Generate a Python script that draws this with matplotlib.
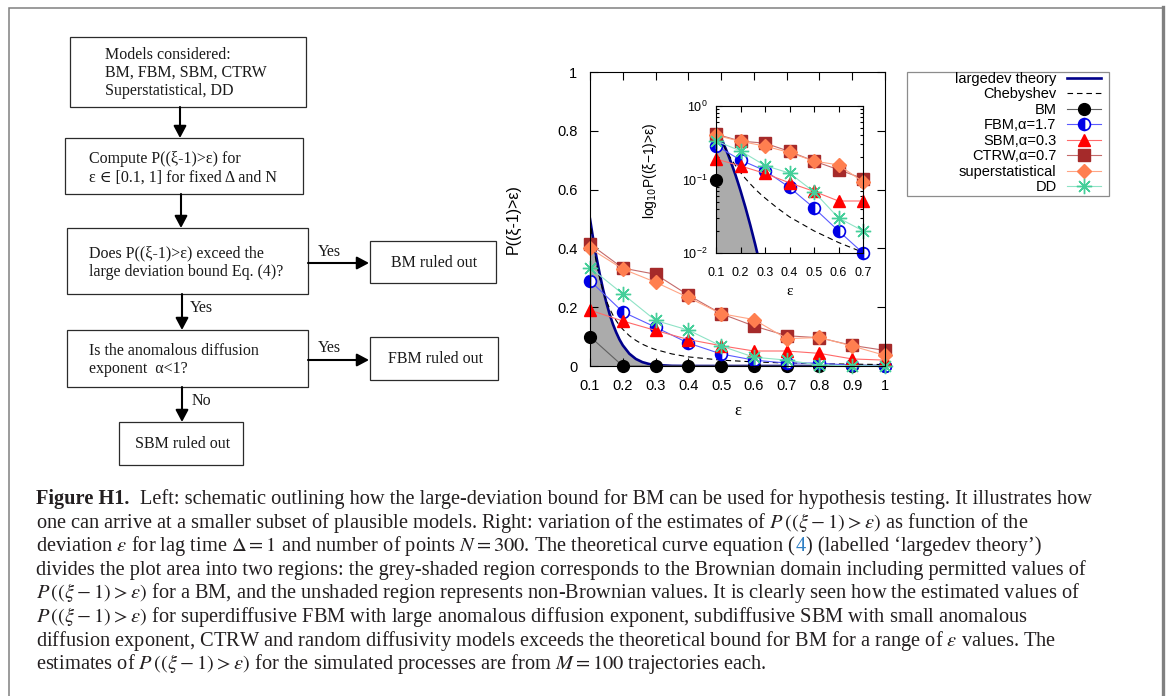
import matplotlib.pyplot as plt
from matplotlib.patches import Rectangle

W, H = 1168, 696

# ---- data ----
eps = [0.1, 0.2, 0.3, 0.4, 0.5, 0.6, 0.7, 0.8, 0.9, 1.0]
bm = [0.10, 0, 0, 0, 0, 0, 0, 0, 0, 0]
fbm = [0.29, 0.184, 0.132, 0.078, 0.041, 0.020, 0.010, 0.010, 0.002, 0.001]
sbm = [0.19, 0.153, 0.121, 0.090, 0.069, 0.051, 0.051, 0.043, 0.024, 0.020]
ctrw = [0.415, 0.333, 0.312, 0.241, 0.178, 0.136, 0.103, 0.096, 0.070, 0.053]
superstat = [0.400, 0.330, 0.285, 0.233, 0.178, 0.158, 0.093, 0.097, 0.068, 0.036]
dd = [0.335, 0.245, 0.155, 0.122, 0.068, 0.030, 0.020, 0.003, 0.001, 0.0]

# theory curves
eps_fine = [0.10, 0.11, 0.12, 0.13, 0.14, 0.15, 0.16, 0.17, 0.18, 0.19, 0.20,
            0.22, 0.24, 0.26, 0.28, 0.30, 0.35, 0.40, 0.50, 0.60, 0.70, 0.80,
            0.90, 1.00]
largedev = [0.50, 0.43, 0.368, 0.311, 0.260, 0.215, 0.176, 0.142, 0.114, 0.090,
            0.0705, 0.0419, 0.0239, 0.0131, 0.0069, 0.0035, 0.00056, 0.00007,
            0, 0, 0, 0, 0, 0]
cheb = [0.50, 0.413, 0.347, 0.296, 0.255, 0.222, 0.195, 0.173, 0.154, 0.138,
        0.125, 0.103, 0.087, 0.074, 0.064, 0.056, 0.041, 0.031, 0.020, 0.0139,
        0.0102, 0.0078, 0.0062, 0.005]

xticks = [0.1, 0.2, 0.3, 0.4, 0.5, 0.6, 0.7, 0.8, 0.9, 1.0]
xtick_labels = ["0.1", "0.2", "0.3", "0.4", "0.5", "0.6", "0.7", "0.8", "0.9", "1"]
yticks = [0, 0.2, 0.4, 0.6, 0.8, 1.0]
ytick_labels = ["0", "0.2", "0.4", "0.6", "0.8", "1"]
inset_xticks = [0.1, 0.2, 0.3, 0.4, 0.5, 0.6, 0.7]
n_in = 7  # points shown in the inset (eps <= 0.7)

names = ["BM", "FBM,α=1.7", "SBM,α=0.3", "CTRW,α=0.7", "superstatistical", "DD"]
values = [bm, fbm, sbm, ctrw, superstat, dd]
styles = [
    dict(color="#606060", marker="o", mfc="black", mec="black", ms=8.5),
    dict(color="#5a5aff", marker="o", mfc="#0000e6", mec="#0000e6",
         markerfacecoloralt="white", fillstyle="left", ms=8.5, mew=1.2),
    dict(color="#ff6a6a", marker="^", mfc="#ff0000", mec="#ff0000", ms=8.5),
    dict(color="#c46a6a", marker="s", mfc="#a52a2a", mec="#a52a2a", ms=8),
    dict(color="#ffa585", marker="D", mfc="#ff7f50", mec="#ff7f50", ms=7),
    dict(color="#8fe3c6", marker=(8, 2, 0), mfc="#45cf9a", mec="#45cf9a", ms=11, mew=1.0),
]

flow_boxes = [  # left, top, right, bottom
    (70, 37, 306, 107), (65, 138, 303, 194), (67, 228, 308, 294),
    (370, 241, 496, 283), (67, 330, 308, 387), (370, 337, 498, 380),
    (119, 422, 243, 465)]
flow_left_text = [
    (105, 73, "Models considered:\nBM, FBM, SBM, CTRW\nSuperstatistical, DD"),
    (89, 168, "Compute P((ξ-1)>ε) for\nε ∈ [0.1, 1] for fixed Δ and N"),
    (89, 263, "Does P((ξ-1)>ε) exceed the\nlarge deviation bound Eq. (4)?"),
    (89, 360, "Is the anomalous diffusion\nexponent  α<1?")]
flow_center_text = [(434, 263, "BM ruled out"), (435, 359, "FBM ruled out"),
                    (183, 444, "SBM ruled out")]
flow_arrows = [((180, 107), (180, 138)), ((181, 194), (181, 228)),
               ((308, 263), (369, 263)), ((182, 294), (182, 330)),
               ((308, 360), (369, 360)), ((182, 387), (182, 422))]
flow_labels = [(318, 252, "Yes"), (190, 308, "Yes"), (318, 348, "Yes"), (192, 401, "No")]

caption = [
    [("Figure H1.", dict(weight="bold"), 0),
     ("Left: schematic outlining how the large-deviation bound for BM can be used for hypothesis testing. It illustrates how", {}, 11)],
    [(r"one can arrive at a smaller subset of plausible models. Right: variation of the estimates of $P\,((\xi-1)>\varepsilon)$ as function of the", {}, 0)],
    [(r"deviation $\varepsilon$ for lag time $\Delta=1$ and number of points $N=300$. The theoretical curve equation (", {}, 0),
     ("4", dict(color="#2e7fc4"), 0),
     (") (labelled ‘largedev theory’)", {}, 0)],
    [("divides the plot area into two regions: the grey-shaded region corresponds to the Brownian domain including permitted values of", {}, 0)],
    [(r"$P\,((\xi-1)>\varepsilon)$ for a BM, and the unshaded region represents non-Brownian values. It is clearly seen how the estimated values of", {}, 0)],
    [(r"$P\,((\xi-1)>\varepsilon)$ for superdiffusive FBM with large anomalous diffusion exponent, subdiffusive SBM with small anomalous", {}, 0)],
    [(r"diffusion exponent, CTRW and random diffusivity models exceeds the theoretical bound for BM for a range of $\varepsilon$ values. The", {}, 0)],
    [(r"estimates of $P\,((\xi-1)>\varepsilon)$ for the simulated processes are from $M=100$ trajectories each.", {}, 0)],
]

plt.rcParams["font.family"] = ["Liberation Sans", "DejaVu Sans"]
SERIF = ["Liberation Serif", "DejaVu Serif"]

fig = plt.figure(figsize=(W / 100, H / 100), dpi=100)


def px_axes(l, t, r, b):
    return [l / W, 1 - b / H, (r - l) / W, (b - t) / H]


# background layer in pixel coordinates: frame, flowchart, caption
fax = fig.add_axes([0, 0, 1, 1])
fax.set_xlim(0, W)
fax.set_ylim(H, 0)
fax.axis("off")

fax.plot([9, 9, 1163], [H, 7.5, 7.5], color="#808080", lw=1.1, solid_joinstyle="miter")
fax.plot([1163, 1163], [6.5, H], color="#808080", lw=2.4)

for l, t, r, b in flow_boxes:
    fax.add_patch(Rectangle((l, t), r - l, b - t, fill=False, ec="#2b2b2b", lw=0.9))
for x, y, s in flow_left_text:
    fax.text(x, y, s, ha="left", va="center", family=SERIF, fontsize=11.5, color="#1a1a1a")
for x, y, s in flow_center_text:
    fax.text(x, y, s, ha="center", va="center", family=SERIF, fontsize=11.5, color="#1a1a1a")
for x, y, s in flow_labels:
    fax.text(x, y, s, ha="left", va="center", family=SERIF, fontsize=11.5, color="#1a1a1a")
for start, end in flow_arrows:
    fax.annotate("", xy=end, xytext=start,
                 arrowprops=dict(arrowstyle="-|>,head_length=0.6,head_width=0.32",
                                 mutation_scale=12, lw=1.5, color="black",
                                 shrinkA=0, shrinkB=0))

cap_kw = dict(family=SERIF, fontsize=14.7, color="#231f20", math_fontfamily="stix")
for i, pieces in enumerate(caption):
    y = 504 + 23.6 * i
    prev = None
    for txt, extra, gap in pieces:
        kw = dict(cap_kw)
        kw.update(extra)
        if prev is None:
            prev = fax.text(36, y, txt, ha="left", va="baseline", **kw)
        else:
            prev = fax.annotate(txt, xy=(1, y), xycoords=(prev, "data"),
                                xytext=(gap, 0), textcoords="offset pixels",
                                ha="left", va="baseline", **kw)

# ---- main panel ----
ax = fig.add_axes(px_axes(590, 72, 885, 366))
ax.fill_between(eps_fine, 0, largedev, color="#ababab", lw=0)
handles = []
handles += ax.plot(eps_fine, largedev, color="#00008b", lw=1.9, label="largedev theory")
handles += ax.plot(eps_fine, cheb, color="black", lw=0.8, ls=(0, (5, 3.5)), label="Chebyshev")
for v, name, st in zip(values, names, styles):
    handles += ax.plot(eps, v, lw=0.8, label=name, clip_on=False, **st)

ax.set_xlim(0.1, 1)
ax.set_ylim(0, 1)
ax.set_xticks(xticks, xtick_labels)
ax.set_yticks(yticks, ytick_labels)
ax.tick_params(direction="in", top=True, right=True, length=5.5, width=0.8,
               labelsize=10.5, pad=9)
for sp in ax.spines.values():
    sp.set_linewidth(0.8)
ax.set_xlabel("ε", fontsize=12, family=SERIF)
ax.xaxis.set_label_coords(0.5, -0.125)
ax.set_ylabel("P((ξ-1)>ε)", fontsize=11.5)
ax.yaxis.set_label_coords(-0.235, 0.5)

ax.legend(handles=handles, loc="upper right", markerfirst=False, frameon=False,
          bbox_to_anchor=(1101 / W, 1 - 72 / H), bbox_transform=fig.transFigure,
          borderpad=0, borderaxespad=0, fontsize=10.5, labelspacing=0.1,
          handlelength=2.35, handletextpad=0.7)
fax.add_patch(Rectangle((907, 72), 202, 124, fill=False, ec="#8c8c8c", lw=0.9))

# ---- inset ----
axi = fig.add_axes(px_axes(716, 106, 863, 253))
axi.set_yscale("log", nonpositive="mask")
axi.set_xlim(0.1, 0.7)
axi.set_ylim(0.01, 1)
k = sum(1 for v in largedev if v > 0)
axi.fill_between(eps_fine[:k], 0.01, largedev[:k], color="#ababab", lw=0)
axi.plot(eps_fine[:k], largedev[:k], color="#00008b", lw=1.9)
axi.plot(eps_fine, cheb, color="black", lw=0.8, ls=(0, (5, 3.5)))
for v, st in zip(values, styles):
    axi.plot(eps[:n_in], v[:n_in], lw=0.8, clip_on=False, **st)
axi.set_xticks(inset_xticks, xtick_labels[:n_in])
axi.tick_params(which="both", direction="in", top=True, right=True, width=0.8, labelsize=9)
axi.tick_params(which="major", length=4.5)
axi.tick_params(which="minor", length=2.3)
axi.tick_params(axis="x", which="both", pad=10)
axi.tick_params(axis="y", which="both", pad=6)
for sp in axi.spines.values():
    sp.set_linewidth(0.8)
axi.set_xlabel("ε", fontsize=11, family=SERIF)
axi.xaxis.set_label_coords(0.5, -0.215)
axi.set_ylabel(r"log$_{10}$P((ξ−1)>ε)", fontsize=10)
axi.yaxis.set_label_coords(-0.39, 0.56)

fig.savefig("out.png", dpi=100)
